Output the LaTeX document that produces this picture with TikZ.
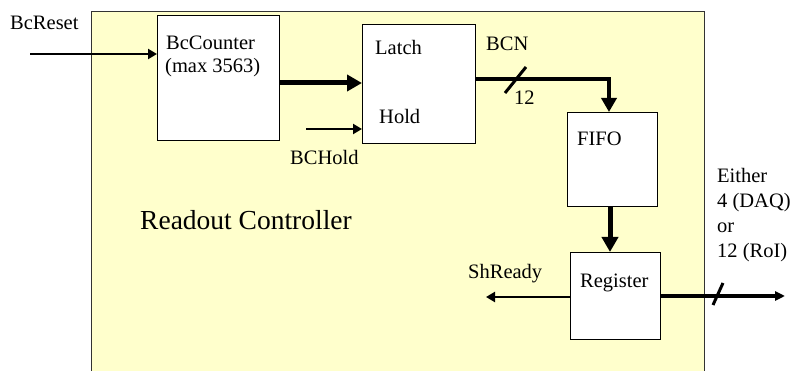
\documentclass[tikz,border=0pt]{standalone}
\usepackage{fontspec}
\setmainfont{Liberation Serif}
\usetikzlibrary{arrows.meta,calc}
\definecolor{paleyellow}{HTML}{FFFFCC}
\tikzset{
  blk/.style={draw=black, line width=0.8pt, fill=white, anchor=north west, inner sep=0pt},
  lbl/.style={inner sep=0pt, anchor=base west, font=\fontsize{20.5}{25}\selectfont},
  thin arrow/.style={line width=2.8pt, -{Triangle[length=9pt,width=10pt]}},
  bus arrow/.style={line width=5pt, -{Triangle[length=15pt,width=16pt]}},
  slash/.style={line width=3pt}
}
\begin{document}
\begin{tikzpicture}[x=1pt,y=-1pt]
  \useasboundingbox (0,0) rectangle (793,371);
  \clip (0,0) rectangle (793,371);

  % controller area
  \node[draw=black!80, line width=1pt, fill=paleyellow, anchor=north west,
        minimum width=613pt, minimum height=380pt, inner sep=0pt] (ctrl) at (91,11) {};
  \node[lbl, font=\fontsize{27.5}{32}\selectfont] (title) at (140,230) {Readout Controller};

  % blocks
  \node[blk, minimum width=122pt, minimum height=125pt] (cnt) at (157,15) {};
  \node[blk, minimum width=113pt, minimum height=119pt] (latch) at (362,24) {};
  \node[blk, minimum width=90pt, minimum height=94pt] (fifo) at (567,112) {};
  \node[blk, minimum width=90pt, minimum height=87pt] (reg) at (570,252) {};

  % block texts
  \node[lbl] (cnt1) at (166,50) {BcCounter};
  \node[lbl] (cnt2) at (165,73) {(max 3563)};
  \node[lbl] (latchtxt) at (375,55) {Latch};
  \node[lbl] (holdtxt) at (379,124) {Hold};
  \node[lbl] (fifotxt) at (577,146) {FIFO};
  \node[lbl] (regtxt) at (580,288) {Register};

  % signal labels
  \node[lbl] (resetlbl) at (10,30) {BcReset};
  \node[lbl] (holdlbl) at (290,165) {BCHold};
  \node[lbl] (bcnlbl) at (486,51) {BCN};
  \node[lbl] (bcnw) at (514,105) {12};
  \node[lbl] (shlbl) at (468,279) {ShReady};
  \node[lbl, align=left, anchor=north west] (outlbl) at (717,168)
       {Either\\4 (DAQ)\\or\\12 (RoI)};

  % free ends
  \coordinate (resetin) at (30,54);
  \coordinate (holdin) at (306,129);
  \coordinate (shout) at (486,297);
  \coordinate (dout) at (785,296);

  % connectors
  \draw[thin arrow] (resetin) -- (cnt.west |- resetin);
  \draw[bus arrow] (cnt.east |- 0,83) -- (latch.west |- 0,83);
  \draw[thin arrow] (holdin) -- (latch.west |- holdin);
  \draw[line width=4pt, -{Triangle[length=14pt,width=15pt]}]
       (latch.east |- 0,79) -| (fifo.north -| 609,0);
  \draw[slash] (505,93) -- (526,67);
  \draw[bus arrow] (fifo.south -| 610,0) -- (reg.north -| 610,0);
  \draw[thin arrow] (reg.west |- shout) -- (shout);
  \draw[line width=4pt, -{Triangle[length=10pt,width=9pt]}] (reg.east |- dout) -- (dout);
  \draw[slash] (713,305) -- (723,283);
\end{tikzpicture}
\end{document}
